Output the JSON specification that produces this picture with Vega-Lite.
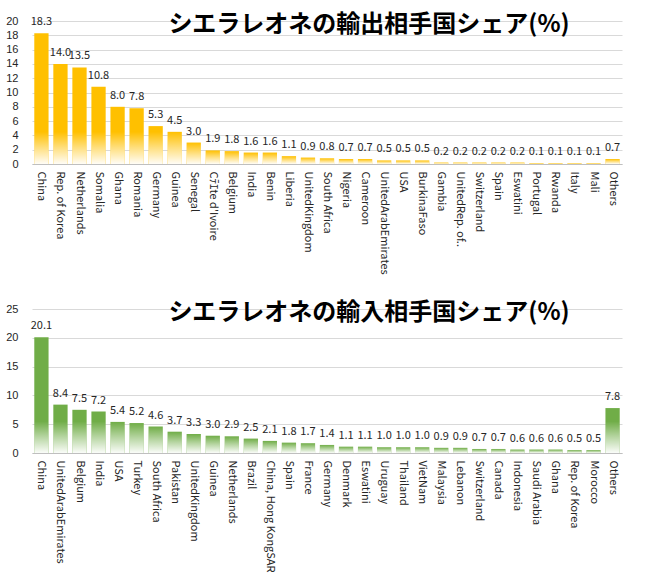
{
  "$schema": "https://vega.github.io/schema/vega-lite/v6.json",
  "padding": {"left": 5, "top": 13, "right": 5, "bottom": 0},
  "datasets": {
    "exports": [
      {"country": "China", "share": 18.3},
      {"country": "Rep. of Korea", "share": 14.0},
      {"country": "Netherlands", "share": 13.5},
      {"country": "Somalia", "share": 10.8},
      {"country": "Ghana", "share": 8.0},
      {"country": "Romania", "share": 7.8},
      {"country": "Germany", "share": 5.3},
      {"country": "Guinea", "share": 4.5},
      {"country": "Senegal", "share": 3.0},
      {"country": "Cﾃｴte d'Ivoire", "share": 1.9},
      {"country": "Belgium", "share": 1.8},
      {"country": "India", "share": 1.6},
      {"country": "Benin", "share": 1.6},
      {"country": "Liberia", "share": 1.1},
      {"country": "UnitedKingdom", "share": 0.9},
      {"country": "South Africa", "share": 0.8},
      {"country": "Nigeria", "share": 0.7},
      {"country": "Cameroon", "share": 0.7},
      {"country": "UnitedArabEmirates", "share": 0.5},
      {"country": "USA", "share": 0.5},
      {"country": "BurkinaFaso", "share": 0.5},
      {"country": "Gambia", "share": 0.2},
      {"country": "UnitedRep. of..", "share": 0.2},
      {"country": "Switzerland", "share": 0.2},
      {"country": "Spain", "share": 0.2},
      {"country": "Eswatini", "share": 0.2},
      {"country": "Portugal", "share": 0.1},
      {"country": "Rwanda", "share": 0.1},
      {"country": "Italy", "share": 0.1},
      {"country": "Mali", "share": 0.1},
      {"country": "Others", "share": 0.7}
    ],
    "imports": [
      {"country": "China", "share": 20.1},
      {"country": "UnitedArabEmirates", "share": 8.4},
      {"country": "Belgium", "share": 7.5},
      {"country": "India", "share": 7.2},
      {"country": "USA", "share": 5.4},
      {"country": "Turkey", "share": 5.2},
      {"country": "South Africa", "share": 4.6},
      {"country": "Pakistan", "share": 3.7},
      {"country": "UnitedKingdom", "share": 3.3},
      {"country": "Guinea", "share": 3.0},
      {"country": "Netherlands", "share": 2.9},
      {"country": "Brazil", "share": 2.5},
      {"country": "China, Hong KongSAR", "share": 2.1},
      {"country": "Spain", "share": 1.8},
      {"country": "France", "share": 1.7},
      {"country": "Germany", "share": 1.4},
      {"country": "Denmark", "share": 1.1},
      {"country": "Eswatini", "share": 1.1},
      {"country": "Uruguay", "share": 1.0},
      {"country": "Thailand", "share": 1.0},
      {"country": "VietNam", "share": 1.0},
      {"country": "Malaysia", "share": 0.9},
      {"country": "Lebanon", "share": 0.9},
      {"country": "Switzerland", "share": 0.7},
      {"country": "Canada", "share": 0.7},
      {"country": "Indonesia", "share": 0.6},
      {"country": "Saudi Arabia", "share": 0.6},
      {"country": "Ghana", "share": 0.6},
      {"country": "Rep. of Korea", "share": 0.5},
      {"country": "Morocco", "share": 0.5},
      {"country": "Others", "share": 7.8}
    ]
  },
  "spacing": 26,
  "vconcat": [
    {
      "data": {"name": "exports"},
      "width": 590,
      "height": 143,
      "title": {
        "text": "シエラレオネの輸出相手国シェア(%)",
        "fontSize": 24,
        "font": "Noto Sans CJK JP",
        "fontWeight": "bold",
        "color": "#000000",
        "anchor": "middle",
        "dx": 42,
        "offset": -22
      },
      "encoding": {
        "x": {
          "field": "country",
          "type": "nominal",
          "sort": null,
          "scale": {"paddingInner": 0.25, "paddingOuter": 0.12},
          "axis": {
            "title": null,
            "labelAngle": 90,
            "labelAlign": "left",
            "labelBaseline": "middle",
            "labelPadding": 7,
            "labelFontSize": 11,
            "labelColor": "#262626",
            "labelOverlap": false,
            "ticks": false,
            "domainColor": "#BFBFBF",
            "minExtent": 110,
            "maxExtent": 110
          }
        }
      },
      "layer": [
        {
          "mark": {"type": "bar", "color": "#FFC000"},
          "encoding": {
            "y": {
              "field": "share",
              "type": "quantitative",
              "scale": {"domain": [0, 20]},
              "axis": {
                "title": null,
                "values": [0, 2, 4, 6, 8, 10, 12, 14, 16, 18, 20],
                "domain": false,
                "ticks": false,
                "gridColor": "#D9D9D9",
                "labelFont": "Liberation Sans",
                "labelFontSize": 11,
                "labelColor": "#262626",
                "labelPadding": 14,
                "minExtent": 25,
                "maxExtent": 25
              }
            }
          }
        },
        {
          "mark": {
            "type": "bar",
            "color": {
              "gradient": "linear",
              "x1": 0, "y1": 0, "x2": 0, "y2": 1,
              "stops": [
                {"offset": 0, "color": "rgba(255,255,255,0)"},
                {"offset": 0.5, "color": "rgba(255,255,255,0.5)"},
                {"offset": 1, "color": "rgba(255,255,255,0.97)"}
              ]
            }
          },
          "encoding": {
            "y": {
              "field": "share",
              "type": "quantitative",
              "scale": {"domain": [0, 4.5], "range": [143, 110.825], "clamp": true},
              "axis": null
            }
          }
        },
        {
          "mark": {"type": "text", "baseline": "alphabetic", "dy": -8, "fontSize": 11, "color": "#262626"},
          "encoding": {
            "y": {"field": "share", "type": "quantitative", "scale": {"domain": [0, 20]}, "axis": null},
            "text": {"field": "share", "type": "quantitative", "format": ".1f"}
          }
        }
      ],
      "resolve": {"scale": {"y": "independent"}}
    },
    {
      "data": {"name": "imports"},
      "width": 590,
      "height": 144,
      "title": {
        "text": "シエラレオネの輸入相手国シェア(%)",
        "fontSize": 24,
        "font": "Noto Sans CJK JP",
        "fontWeight": "bold",
        "color": "#000000",
        "anchor": "middle",
        "dx": 42,
        "offset": -22
      },
      "encoding": {
        "x": {
          "field": "country",
          "type": "nominal",
          "sort": null,
          "scale": {"paddingInner": 0.25, "paddingOuter": 0.12},
          "axis": {
            "title": null,
            "labelAngle": 90,
            "labelAlign": "left",
            "labelBaseline": "middle",
            "labelPadding": 7,
            "labelFontSize": 11,
            "labelColor": "#262626",
            "labelOverlap": false,
            "ticks": false,
            "domainColor": "#BFBFBF"
          }
        }
      },
      "layer": [
        {
          "mark": {"type": "bar", "color": "#70AD47"},
          "encoding": {
            "y": {
              "field": "share",
              "type": "quantitative",
              "scale": {"domain": [0, 25]},
              "axis": {
                "title": null,
                "values": [0, 5, 10, 15, 20, 25],
                "domain": false,
                "ticks": false,
                "gridColor": "#D9D9D9",
                "labelFont": "Liberation Sans",
                "labelFontSize": 11,
                "labelColor": "#262626",
                "labelPadding": 14,
                "minExtent": 25,
                "maxExtent": 25
              }
            }
          }
        },
        {
          "mark": {
            "type": "bar",
            "color": {
              "gradient": "linear",
              "x1": 0, "y1": 0, "x2": 0, "y2": 1,
              "stops": [
                {"offset": 0, "color": "rgba(255,255,255,0)"},
                {"offset": 0.5, "color": "rgba(255,255,255,0.5)"},
                {"offset": 1, "color": "rgba(255,255,255,0.97)"}
              ]
            }
          },
          "encoding": {
            "y": {
              "field": "share",
              "type": "quantitative",
              "scale": {"domain": [0, 5.5], "range": [144, 112.32], "clamp": true},
              "axis": null
            }
          }
        },
        {
          "mark": {"type": "text", "baseline": "alphabetic", "dy": -8, "fontSize": 11, "color": "#262626"},
          "encoding": {
            "y": {"field": "share", "type": "quantitative", "scale": {"domain": [0, 25]}, "axis": null},
            "text": {"field": "share", "type": "quantitative", "format": ".1f"}
          }
        }
      ],
      "resolve": {"scale": {"y": "independent"}}
    }
  ],
  "config": {
    "view": {"stroke": null},
    "font": "Noto Sans CJK JP"
  }
}
